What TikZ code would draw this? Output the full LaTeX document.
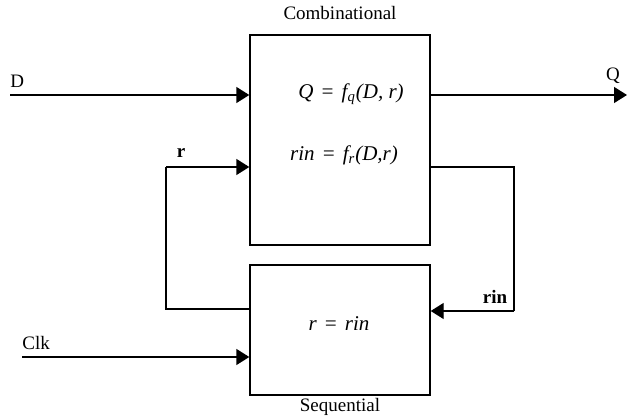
\documentclass[tikz,border=0pt]{standalone}
\usepackage{fontspec}
\setmainfont{Liberation Serif}
\usetikzlibrary{arrows.meta,positioning,calc}

\begin{document}
\begin{tikzpicture}[
  x=0.5pt,y=-0.5pt,
  >={Triangle[length=6.5pt,width=8pt]},
  font=\fontsize{9.5}{11}\selectfont,
  block/.style={draw, line width=0.7pt, minimum width=90pt, inner sep=0pt},
  wire/.style={line width=0.7pt},
  arrow/.style={wire, ->},
  lbl/.style={inner sep=1pt},
  eq/.style={inner sep=1pt, font=\fontsize{10.5}{12}\selectfont\itshape}
]
\useasboundingbox (0,0) rectangle (627,416);

% Blocks.
\node[block, minimum height=105pt] (comb) at (340,140) {};
\node[block, minimum height=65pt] (seq) at (340,330) {};
\node[lbl] (combname) at (340,13) {Combinational};
\node[lbl] (seqname) at (340,407) {Sequential};
\node[eq] (qeq) at (351,94) {Q\,\,=\,\,f\textsubscript{q}(D, r)};
\node[eq] (rineq) at (344,155) {rin\,\,=\,\,f\textsubscript{r}(D,r)};
\node[eq] (req) at (339,324) {r\,\,=\,\,rin};

% Inputs and output.
\coordinate (din) at (10,95);
\coordinate (qout) at (627,95);
\coordinate (clkin) at (22,357);
\node[lbl, anchor=south west] (dlbl) at (8,90) {D};
\node[lbl, anchor=south] (qlbl) at (613,86) {Q};
\node[lbl, anchor=south west] (clklbl) at (20,352) {Clk};
\draw[arrow] (din) -- (din -| comb.west);
\draw[arrow] (din -| comb.east) -- (qout);
\draw[arrow] (clkin) -- (clkin -| seq.west);

% Feedback loop.
\coordinate (rtop) at (166,167);
\coordinate (rbot) at (166,309);
\coordinate (rintop) at (514,167);
\coordinate (rinbot) at (514,311);
\draw[wire] (rbot -| seq.west) -- (rbot) -- (rtop);
\draw[arrow] (rtop) -- (rtop -| comb.west);
\draw[wire] (rintop -| comb.east) -- (rintop) -- (rinbot);
\draw[arrow] (rinbot) -- (rinbot -| seq.east);
\node[lbl, font=\fontsize{9.5}{11}\selectfont\bfseries] (rlbl) at (181,153) {r};
\node[lbl, font=\fontsize{9.5}{11}\selectfont\bfseries] (rinlbl) at (495,297) {rin};
\end{tikzpicture}
\end{document}
